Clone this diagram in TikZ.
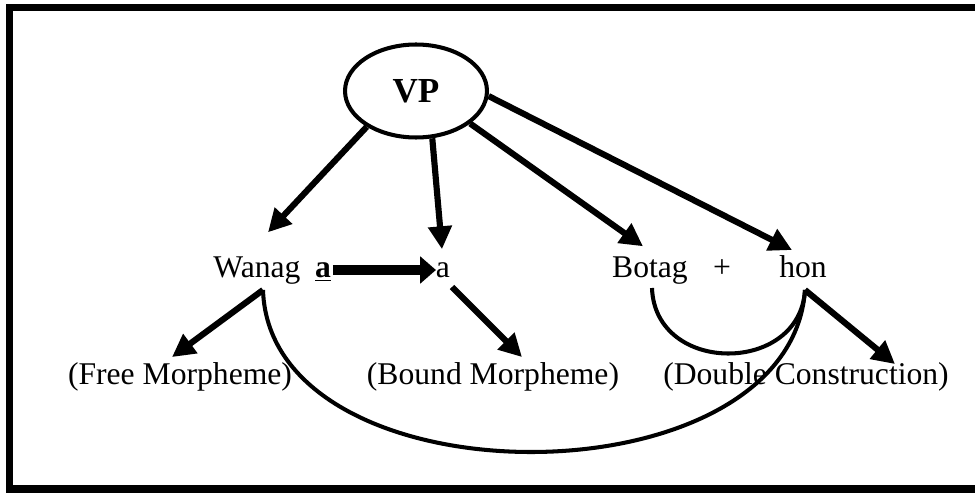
\documentclass[tikz,border=0pt]{standalone}
\usepackage{fontspec}
\setmainfont{Liberation Serif}
\usetikzlibrary{arrows.meta,shapes.geometric}
\begin{document}
\begin{tikzpicture}[x=0.02cm,y=-0.02cm,
  txt/.style={inner sep=0pt,outer sep=0pt,anchor=base,font=\fontsize{18}{20}\selectfont},
  arr/.style={line width=3.5pt,-{Triangle[length=13pt,width=13pt]}},
  bigarr/.style={line width=5.5pt,-{Triangle[length=9pt,width=15pt]}},
  curve/.style={line width=2.3pt}]
\useasboundingbox (0,0) rectangle (975,493);
% frame
\fill (6,4) rectangle (975,11);
\fill (6,4) rectangle (13,493);
\fill (6,485) rectangle (975,493);
% nodes
\node[draw,ellipse,line width=2.3pt,inner sep=0pt,minimum width=2.84cm,minimum height=1.86cm,
      font=\fontsize{20}{22}\selectfont\bfseries] (vp) at (416,91) {VP};
\node[txt] (wanag) at (257,278) {Wanag};
\node[txt] (ua) at (323,278) {\underline{\textbf{a}}};
\node[txt] (a2) at (443,278) {a};
\node[txt] (botag) at (650,278) {Botag};
\node[txt] (plus) at (722,278) {+};
\node[txt] (hon) at (803,278) {hon};
\node[txt] (free) at (180,385) {(Free Morpheme)};
\node[txt] (bound) at (493,385) {(Bound Morpheme)};
\node[txt] (double) at (806,385) {(Double Construction)};
% arrows from VP
\draw[arr] (vp.216) -- ([shift={(11,-25)}]wanag.north);
\draw[arr] (vp.289) -- ([shift={(-1,-14)}]a2.north);
\draw[arr] (vp.329) -- ([shift={(-7,-11)}]botag.north);
\draw[arr] (vp.356) -- ([shift={(-11,-6)}]hon.north);
% lower arrows
\draw[arr] ([shift={(6,12)}]wanag.base) -- ([shift={(-8,-6)}]free.north);
\draw[arr] ([shift={(9,9)}]a2.base) -- ([shift={(29,-6)}]bound.north);
\draw[arr] ([shift={(2,12)}]hon.base) -- ([shift={(89,1)}]double.north);
% horizontal arrow
\draw[bigarr] ([shift={(2,-8)}]ua.base east) -- ([shift={(0,-8)}]a2.base west);
% curves
\draw[curve] ([shift={(6,12)}]wanag.base) .. controls (270,506) and (790,506) .. ([shift={(2,12)}]hon.base);
\draw[curve] ([shift={(2,10)}]botag.base) .. controls (655,375) and (800,375) .. ([shift={(2,12)}]hon.base);
\end{tikzpicture}
\end{document}
